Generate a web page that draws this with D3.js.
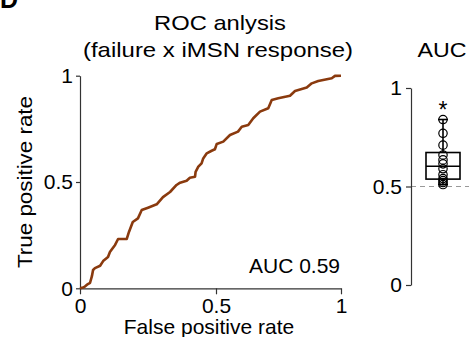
<!DOCTYPE html>
<html>
<head>
<meta charset="utf-8">
<script src="https://cdn.jsdelivr.net/npm/d3@7"></script>
<style>
  body { margin: 0; background: #fff; }
  text { font-family: "Liberation Sans", Arial, sans-serif; fill: #000; }
</style>
</head>
<body>
<svg></svg>
<script>
let width = 469, height = 337;

let svg = d3.select("svg")
    .attr("width", width)
    .attr("height", height);

// ROC curve
let fpr = [0, 0.011, 0.018, 0.029, 0.037, 0.044, 0.048, 0.055, 0.074, 0.085, 0.103, 0.110, 0.118, 0.129, 0.140,
    0.172, 0.180, 0.194, 0.213, 0.227, 0.250, 0.282, 0.305, 0.331, 0.355, 0.368, 0.392, 0.404, 0.423, 0.425,
    0.435, 0.447, 0.453, 0.466, 0.484, 0.496, 0.503, 0.529, 0.556, 0.588, 0.603, 0.629, 0.649, 0.676, 0.709,
    0.723, 0.749, 0.796, 0.816, 0.863, 0.883, 0.909, 0.963, 0.976, 1.0];
let tpr = [0, 0.004, 0.008, 0.020, 0.026, 0.058, 0.086, 0.095, 0.106, 0.128, 0.147, 0.171, 0.185, 0.204, 0.232,
    0.232, 0.265, 0.312, 0.329, 0.368, 0.379, 0.395, 0.429, 0.453, 0.486, 0.497, 0.506, 0.520, 0.525, 0.548,
    0.572, 0.588, 0.611, 0.635, 0.647, 0.654, 0.679, 0.690, 0.721, 0.737, 0.760, 0.768, 0.800, 0.831, 0.847,
    0.886, 0.894, 0.906, 0.928, 0.944, 0.964, 0.975, 0.988, 0.999, 1.0];
let aucText = "AUC 0.59";

// per-session AUC values (right panel)
let aucValues = [0.51, 0.52, 0.53, 0.54, 0.56, 0.59, 0.615, 0.635, 0.66, 0.71, 0.77, 0.84];
let chance = 0.5;

let tickVals = [0, 0.5, 1];
let tickLabels = ["0", "0.5", "1"];

let roc = fpr.map((f, i) => ({x: f, y: tpr[i]}));

// scales
let x = d3.scaleLinear().domain([0, 0.5, 1]).range([80, 216, 341]);
let y = d3.scaleLinear().domain([0, 1]).range([288.3, 75.7]);
let yb = d3.scaleLinear().domain([0, 1]).range([285, 88]);
let bx = 443, bw = 34;

// panel letter
svg.append("text")
    .attr("x", 0).attr("y", 8)
    .style("font-size", "25px").style("font-weight", "bold")
    .text("D");

// titles
svg.append("text")
    .attr("x", 220).attr("y", 30)
    .attr("text-anchor", "middle")
    .attr("textLength", 132).attr("lengthAdjust", "spacingAndGlyphs")
    .style("font-size", "21px")
    .text("ROC anlysis");
svg.append("text")
    .attr("x", 218).attr("y", 57)
    .attr("text-anchor", "middle")
    .attr("textLength", 270).attr("lengthAdjust", "spacingAndGlyphs")
    .style("font-size", "21px")
    .text("(failure x iMSN response)");

// axes
let fmt = d => tickLabels[tickVals.indexOf(d)];

let xAxis = svg.append("g")
    .attr("transform", "translate(0," + y(0) + ")")
    .call(d3.axisBottom(x).tickValues(tickVals).tickFormat(fmt).tickSize(6).tickSizeOuter(0).tickPadding(4));
let yAxis = svg.append("g")
    .attr("transform", "translate(" + x(0) + ",0)")
    .call(d3.axisLeft(y).tickValues(tickVals).tickFormat(fmt).tickSize(4).tickSizeOuter(0).tickPadding(3));

[xAxis, yAxis].forEach(g => {
    g.selectAll("path,line").attr("stroke", "#333").attr("stroke-width", 1.2);
    g.selectAll("text").style("font-size", "21px").attr("fill", "#000")
        .style("font-family", "'Liberation Sans', Arial, sans-serif");
});

svg.append("text")
    .attr("x", 209).attr("y", 334)
    .attr("text-anchor", "middle")
    .style("font-size", "21px")
    .text("False positive rate");
svg.append("text")
    .attr("transform", "translate(32,182) rotate(-90)")
    .attr("text-anchor", "middle")
    .attr("textLength", 172).attr("lengthAdjust", "spacingAndGlyphs")
    .style("font-size", "21px")
    .text("True positive rate");

// ROC line
svg.append("path")
    .datum(roc)
    .attr("fill", "none")
    .attr("stroke", "#8a3a0e")
    .attr("stroke-width", 2.6)
    .attr("stroke-linejoin", "round")
    .attr("d", d3.line().x(d => x(d.x)).y(d => y(d.y)));

svg.append("text")
    .attr("x", 340).attr("y", 273)
    .attr("text-anchor", "end")
    .style("font-size", "21px")
    .text(aucText);

// ---- AUC box plot ----
svg.append("text")
    .attr("x", 442).attr("y", 57)
    .attr("text-anchor", "middle")
    .attr("textLength", 49).attr("lengthAdjust", "spacingAndGlyphs")
    .style("font-size", "21px")
    .text("AUC");

svg.append("line")
    .attr("x1", 411).attr("x2", width)
    .attr("y1", yb(chance)).attr("y2", yb(chance))
    .attr("stroke", "#999").attr("stroke-width", 1.2)
    .attr("stroke-dasharray", "5,4");

let bAxis = svg.append("g")
    .attr("transform", "translate(411,0)")
    .call(d3.axisLeft(yb).tickValues(tickVals).tickFormat(fmt).tickSize(5).tickSizeOuter(0).tickPadding(4));
bAxis.selectAll("path,line").attr("stroke", "#333").attr("stroke-width", 1.2);
bAxis.selectAll("text").style("font-size", "21px").attr("fill", "#000")
    .style("font-family", "'Liberation Sans', Arial, sans-serif");

let sorted = aucValues.slice().sort(d3.ascending);
let q1 = d3.quantile(sorted, 0.25), med = d3.quantile(sorted, 0.5), q3 = d3.quantile(sorted, 0.75);
let lo = d3.min(sorted), hi = d3.max(sorted);

let box = svg.append("g").attr("stroke", "#000").attr("stroke-width", 1.6).attr("fill", "none");
box.append("line").attr("x1", bx).attr("x2", bx).attr("y1", yb(hi)).attr("y2", yb(q3));
box.append("line").attr("x1", bx).attr("x2", bx).attr("y1", yb(q1)).attr("y2", yb(lo));
box.append("line").attr("x1", bx - 5).attr("x2", bx + 5).attr("y1", yb(hi)).attr("y2", yb(hi));
box.append("line").attr("x1", bx - 5).attr("x2", bx + 5).attr("y1", yb(lo)).attr("y2", yb(lo));
box.append("rect")
    .attr("x", bx - bw / 2).attr("width", bw)
    .attr("y", yb(q3)).attr("height", yb(q1) - yb(q3));
box.append("line").attr("x1", bx - bw / 2).attr("x2", bx + bw / 2).attr("y1", yb(med)).attr("y2", yb(med));

svg.append("g")
    .selectAll("circle")
    .data(aucValues)
    .enter()
    .append("circle")
    .attr("cx", bx)
    .attr("cy", d => yb(d))
    .attr("r", 4.2)
    .attr("fill", "none")
    .attr("stroke", "#000")
    .attr("stroke-width", 1.2);

svg.append("text")
    .attr("x", bx).attr("y", 118)
    .attr("text-anchor", "middle")
    .style("font-size", "23px")
    .text("*");
</script>
</body>
</html>
